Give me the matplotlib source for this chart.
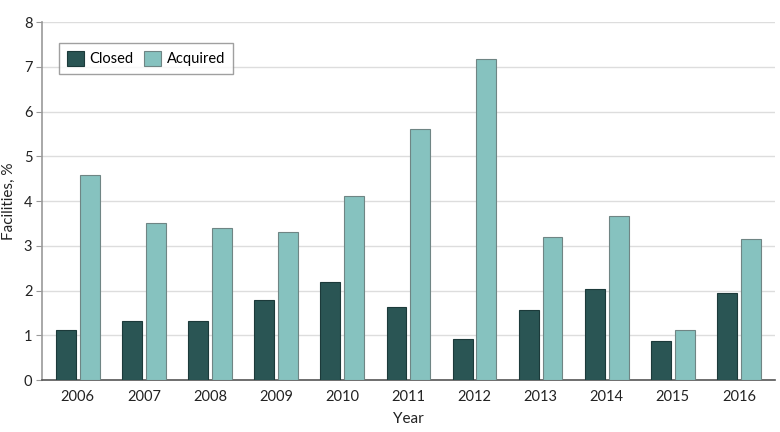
import matplotlib
matplotlib.use("Agg")
import matplotlib.pyplot as plt
import numpy as np

years = ["2006", "2007", "2008", "2009", "2010", "2011", "2012", "2013", "2014", "2015", "2016"]
closed = [1.12, 1.32, 1.32, 1.79, 2.19, 1.63, 0.92, 1.56, 2.03, 0.87, 1.94]
acquired = [4.58, 3.51, 3.40, 3.31, 4.11, 5.61, 7.17, 3.20, 3.66, 1.12, 3.15]

plt.rcParams['font.family'] = ['Lato', 'DejaVu Sans']

fig = plt.figure(figsize=(7.8, 4.32), dpi=100)
ax = fig.add_axes([0.054, 0.12, 0.94, 0.829])

x = np.arange(len(years))
w = 0.30
off = 0.18
ax.bar(x - off, closed, w, color="#2a5554", edgecolor="#1c3a3a", linewidth=0.8, label="Closed", zorder=3)
ax.bar(x + off, acquired, w, color="#86c2bf", edgecolor="#6f8584", linewidth=0.8, label="Acquired", zorder=3)

ax.set_xlim(-0.54, 10.55)
ax.set_ylim(0, 8)
ax.set_yticks(range(0, 9))
ax.set_xticks(x)
ax.set_xticklabels(years)
ax.yaxis.grid(True, color="#dddddd", linewidth=1.0, zorder=0)
ax.set_axisbelow(True)

for s in ["top", "right"]:
    ax.spines[s].set_visible(False)
ax.spines["left"].set_color("#999999")
ax.spines["left"].set_linewidth(1.2)
ax.spines["bottom"].set_color("#555555")
ax.spines["bottom"].set_linewidth(1.2)
ax.tick_params(axis="x", length=0, pad=7, labelsize=10.5, colors="#222222")
ax.tick_params(axis="y", length=4, color="#999999", labelsize=10.5, colors="#222222", pad=3)

ax.set_xlabel("Year", fontsize=11, color="#222222", labelpad=6)
ax.set_ylabel("Facilities, %", fontsize=11, color="#222222", labelpad=6)

leg = ax.legend(loc="upper left", bbox_to_anchor=(0.023, 0.941), borderaxespad=0, ncol=2, frameon=True,
                fancybox=False, edgecolor="#888888", fontsize=10.5,
                handlelength=1.15, handleheight=1.15, columnspacing=0.7, handletextpad=0.4,
                borderpad=0.55)
leg.get_frame().set_linewidth(1.0)

fig.savefig("out.png", dpi=100)
